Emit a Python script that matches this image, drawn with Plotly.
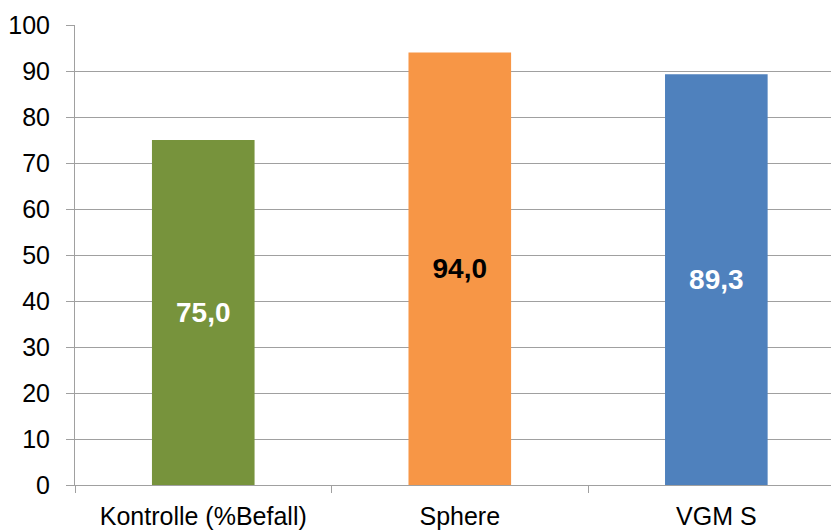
import plotly.graph_objects as go

categories = ["Kontrolle (%Befall)", "Sphere", "VGM S"]
values = [75.0, 94.0, 89.3]
bar_colors = ["#77933C", "#F79646", "#4F81BD"]
label_colors = ["white", "black", "white"]
y_ticks = [0, 10, 20, 30, 40, 50, 60, 70, 80, 90, 100]

fig = go.Figure(go.Bar(
    x=categories,
    y=values,
    width=0.4,
    marker=dict(color=bar_colors, line=dict(width=0)),
    texttemplate="%{y:.1f}",
    textposition="inside",
    insidetextanchor="middle",
    textangle=0,
    textfont=dict(family="Liberation Sans, Arial", size=28, color=label_colors, weight="bold"),
))

grid = "#A0A0A0"
fig.update_layout(
    width=831, height=531,
    margin=dict(l=75, r=0, t=25, b=46),
    paper_bgcolor="white", plot_bgcolor="white",
    separators=",.",
    showlegend=False,
    font=dict(family="Liberation Sans, Arial", size=25, color="black"),
    xaxis=dict(
        type="category",
        range=[-0.5, 2.447],
        tickson="boundaries",
        ticks="outside", ticklen=7, tickcolor=grid, tickwidth=1,
        showline=True, linecolor=grid, linewidth=1,
        showgrid=False,
        tickfont=dict(size=25),
        ticklabelstandoff=9,
    ),
    yaxis=dict(
        range=[0, 100],
        tickvals=y_ticks,
        ticks="outside", ticklen=8, tickcolor=grid, tickwidth=1,
        showline=True, linecolor=grid, linewidth=1,
        showgrid=True, gridcolor=grid, gridwidth=1,
        zeroline=False,
        tickfont=dict(size=25),
        ticklabelstandoff=11,
    ),
)

fig.write_html("out.html")
